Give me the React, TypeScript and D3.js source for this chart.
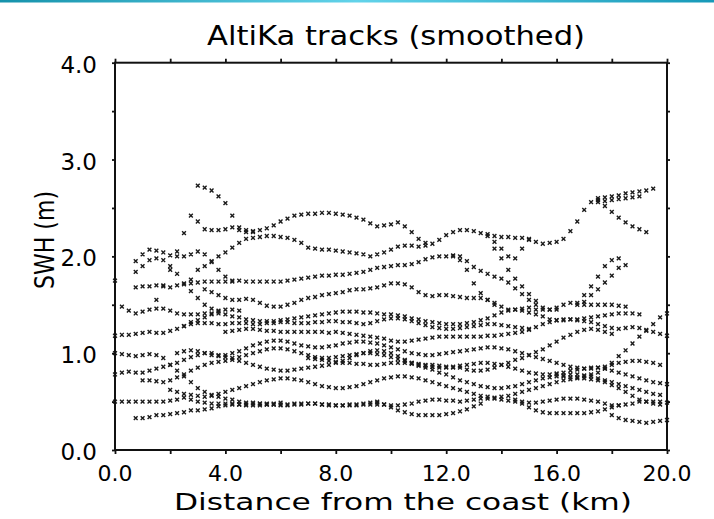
import React, { useEffect, useRef } from "react";
import * as d3 from "d3";

// SWH values along each track, one value every STEP_KM starting at the track's first distance
const STEP_KM = 0.25;

const xMinorTicks = [0, 2, 4, 6, 8, 10, 12, 14, 16, 18, 20];
const xLabelTicks = [0, 4, 8, 12, 16, 20];
const yMinorTicks = [0, 0.5, 1, 1.5, 2, 2.5, 3, 3.5, 4];
const yLabelTicks = [0, 1, 2, 3, 4];

const track01 = [2.73,2.71,2.68,2.62,2.55,2.42,2.30,2.27,2.26,2.27,2.29,2.32,2.36,2.39,2.42,2.43,2.44,2.44,2.45,2.45,2.44,2.43,2.42,2.40,2.38,2.34,2.31,2.32,2.33,2.35,2.31,2.25,2.18,2.14,2.13,2.17,2.22,2.25,2.27,2.27,2.26,2.24,2.23,2.21,2.20,2.20,2.19,2.19,2.17,2.15,2.13,2.14,2.15,2.18,2.26,2.36,2.48,2.56,2.60,2.61,2.62,2.63,2.65,2.66,2.67,2.68,2.70];
const track02 = [2.58,2.52,2.46,2.40,2.35,2.31,2.28,2.25];
const track03 = [2.56,2.57,2.58,2.59,2.60,2.61,2.62];
const track04 = [1.55,1.70,1.86,2.05,2.24,2.42,2.36,2.28,2.27,2.27,2.28,2.30,2.27,2.25,2.25];
const track05 = [1.76,1.86,1.90,1.94,2.00,2.04,2.09,2.14,2.18,2.19,2.20,2.21,2.21,2.20,2.19,2.17,2.14,2.09,2.08,2.07,2.07,2.06,2.05,2.04,2.03,2.02,2.00,2.02,2.04,2.07,2.10,2.11,2.11,2.10,2.11];
const track06 = [1.95,2.02,2.07,2.06,2.04,2.01,2.00,2.00,2.02,2.05,2.02,1.95,1.86,1.79,1.75];
const track07 = [1.84,1.90,1.96,1.98,1.96,1.90,1.82,1.72,1.64,1.57,1.50,1.46,1.44];
const track08 = [1.68,1.69,1.69,1.70,1.69,1.68,1.70,1.71,1.72,1.73,1.74,1.74,1.74,1.74,1.74,1.75,1.74,1.74,1.74,1.74,1.74,1.74,1.75,1.76,1.77,1.78,1.79,1.80,1.80,1.81,1.81,1.82,1.83,1.84,1.86,1.88,1.89,1.90,1.91,1.91,1.92,1.94,1.97,1.99,2.00,2.00,2.01,2.00,1.95,1.89,1.85,1.82,1.79,1.77,1.73,1.67,1.61,1.55,1.50,1.47,1.45,1.45];
const track09 = [2.00,1.96,1.86,1.72,1.62,1.55,1.50];
const track10 = [2.21,2.15,2.08,2.00,1.98,2.08,2.18];
const track11 = [2.08,1.98,1.86,1.77,1.69,1.61,1.54];
const track12 = [1.50,1.60,1.69,1.79,1.90,1.96,1.98];
const track13 = [1.53,1.60,1.66,1.73,1.80,1.88,1.91];
const track14 = [1.66,1.63,1.60,1.57,1.55,1.55,1.56,1.55,1.52,1.49,1.48,1.48,1.50,1.52,1.55,1.57,1.58,1.60,1.61,1.62,1.63,1.65,1.66,1.66,1.67,1.68,1.70,1.72,1.72,1.71,1.68,1.63,1.60,1.59,1.60,1.60,1.59,1.58,1.57,1.57,1.57,1.55,1.52,1.48,1.45,1.45,1.46,1.47,1.45,1.45,1.45,1.47,1.50,1.52,1.52,1.50,1.50,1.50,1.50,1.50,1.49,1.48];
const track15 = [1.48,1.44,1.41,1.43,1.45,1.46,1.46,1.44,1.41,1.40,1.40,1.40,1.41,1.41,1.41,1.40,1.38,1.37,1.35,1.34,1.33,1.33,1.33,1.34,1.35,1.36,1.37,1.38,1.39,1.40,1.41,1.42,1.43,1.43,1.43,1.42,1.42,1.41,1.40,1.40,1.39,1.38,1.36,1.35,1.33,1.32,1.31,1.30,1.30,1.30,1.31,1.32,1.34,1.36,1.39,1.42,1.44,1.45,1.44,1.42,1.40,1.38,1.35,1.34,1.34,1.35,1.35,1.36,1.37,1.38,1.39,1.40,1.41,1.41,1.41,1.40];
const track16 = [1.28,1.30,1.31,1.31,1.31,1.30,1.30,1.31,1.31,1.31,1.30,1.30,1.31,1.31,1.32,1.32,1.31,1.31,1.31,1.32,1.32,1.33,1.33,1.32,1.32,1.31,1.30,1.31,1.33,1.35,1.36,1.36,1.35,1.33,1.31,1.29,1.27,1.26,1.25,1.25,1.26,1.27,1.28,1.29,1.30,1.30,1.29,1.28,1.27,1.26,1.25];
const track17 = [1.18,1.19,1.19,1.20,1.21,1.22,1.21,1.21,1.23,1.25,1.28,1.32,1.34,1.37,1.40,1.43,1.45,1.45,1.44];
const track18 = [1.22,1.23,1.24,1.25,1.25,1.24,1.23,1.23,1.22,1.22,1.22,1.22,1.22,1.22,1.22,1.21,1.22,1.21,1.20,1.19,1.18,1.17,1.16,1.15,1.13,1.12,1.12,1.13,1.14,1.15,1.16,1.17,1.17,1.17,1.17,1.17,1.17,1.17,1.18,1.18,1.19,1.20,1.21,1.22,1.24,1.27,1.30,1.32,1.34,1.35,1.35,1.34,1.33,1.32,1.30,1.28,1.26,1.25,1.26,1.27,1.26,1.24,1.22,1.20,1.18];
const track19 = [0.85,0.83,0.82,0.82,0.83,0.85,0.88,0.90,0.93,0.95,0.98,1.01,1.04,1.08,1.12,1.16,1.19,1.22,1.24,1.25,1.24,1.22,1.20];
const track20 = [0.78,0.76,0.75,0.75,0.76,0.78,0.80,0.84,0.90,0.97,1.03,1.10,1.17,1.23,1.30,1.37,1.41];
const track21 = [1.00,0.99,0.98,0.97,0.98,0.99,0.98,0.95,0.88,0.82,0.76,0.70,0.64,0.60,0.57,0.55,0.53,0.52,0.50,0.49,0.49,0.48,0.48,0.48,0.49];
const track22 = [0.78,0.80,0.81,0.80,0.80,0.82,0.84,0.86,0.88,0.90,0.93,0.96,0.98,1.00,1.00,0.98,0.96,0.95,0.96,0.98,1.00,1.02,1.04,1.05,1.05,1.04,1.02,1.00,0.98,0.96,0.95,0.95,0.96,0.97,0.98,0.99,1.00,1.00,0.99,0.98,0.96,0.94,0.92,0.90,0.88,0.87,0.86,0.85,0.85,0.86,0.87,0.88,0.89,0.90,0.90,0.89,0.88,0.86,0.84,0.82,0.80,0.79,0.78,0.78,0.79,0.80,0.82,0.83,0.84,0.85,0.85,0.84,0.82,0.80,0.78,0.76,0.74,0.72,0.70,0.69,0.68];
const track23 = [0.50,0.50,0.50,0.50,0.50,0.50,0.50,0.50,0.51,0.52,0.54,0.52,0.50,0.49,0.48,0.48,0.48,0.48,0.47,0.47,0.48,0.48,0.47,0.47,0.47,0.47,0.48,0.48,0.48,0.48,0.47,0.47,0.46,0.46,0.46,0.46,0.47,0.47,0.47,0.47,0.46,0.46,0.47,0.48,0.50,0.51,0.52,0.52,0.51,0.51,0.50,0.51,0.52,0.53,0.53,0.53,0.52,0.51,0.50,0.50,0.49,0.49,0.50,0.51,0.52,0.53,0.53,0.53,0.52,0.51,0.50,0.48,0.46,0.46,0.47,0.48,0.50,0.50,0.50,0.50,0.49];
const track25 = [0.52,0.48,0.44,0.41,0.39,0.38,0.38,0.38,0.38,0.38,0.38,0.39,0.40,0.42,0.44,0.46];
const track26 = [0.36,0.33,0.31,0.30,0.29,0.28,0.29,0.30,0.31];
const track27 = [0.50,0.47,0.44,0.41,0.39,0.37,0.36,0.36,0.36,0.36,0.37,0.38,0.40,0.42,0.45,0.48];
const track28 = [0.33,0.33,0.34,0.36,0.36,0.37,0.38,0.39,0.41,0.41,0.42,0.43,0.45,0.46,0.47,0.47,0.46,0.46,0.46,0.47,0.47,0.46,0.46,0.47,0.47,0.48,0.48,0.47,0.46,0.46,0.46,0.47,0.47,0.48,0.49,0.49];
const track29 = [0.72,0.72,0.71,0.70,0.72,0.75,0.78,0.82,0.85,0.88,0.90,0.91,0.92,0.93,0.92,0.90,0.88,0.86,0.84,0.83,0.82,0.82,0.83,0.84,0.85,0.86,0.87,0.88,0.90,0.92,0.95,0.98,1.00,1.02,1.03,1.02,1.00,0.97,0.93,0.90,0.87,0.85,0.83,0.80,0.78,0.75,0.72,0.70,0.68,0.66,0.65,0.64,0.64,0.65,0.66,0.68,0.70,0.72,0.74,0.75,0.76,0.77,0.78,0.78,0.77,0.76,0.74,0.72,0.70,0.68,0.66,0.64,0.62,0.60,0.58,0.57];
const track30 = [0.62,0.60,0.58,0.57,0.56,0.55,0.56,0.58,0.60,0.62,0.64,0.66,0.68,0.70,0.72,0.73,0.74,0.74,0.73,0.72,0.70,0.68,0.66,0.65,0.64,0.64,0.65,0.66,0.68,0.70,0.72,0.74,0.75,0.76,0.76,0.75,0.74,0.72,0.70,0.68,0.66,0.64,0.62,0.60,0.58,0.56,0.55,0.54,0.55,0.56,0.58,0.60,0.62,0.64,0.66,0.68,0.70,0.72,0.73,0.74,0.74,0.73,0.72,0.70,0.67,0.64,0.60,0.56,0.52,0.50,0.48,0.47];
const track31 = [1.00,1.02,1.03,1.02,1.00,0.98,0.97,0.98,1.00,1.02,1.05,1.08,1.10,1.12,1.13,1.13,1.12,1.10,1.08,1.07,1.06,1.06,1.07,1.08,1.10,1.11,1.12,1.12,1.11,1.10,1.08,1.06,1.04,1.02,1.00,0.99,0.98,0.98,0.99,1.00,1.01,1.02,1.03,1.04,1.05,1.06,1.06,1.05,1.04,1.02,1.00,0.98,0.96,0.94,0.92,0.90,0.88,0.86,0.85,0.84,0.84,0.85,0.86,0.88,0.90,0.91,0.92,0.92,0.91,0.90,0.88];
const track32 = [0.95,0.94,0.93,0.92,0.91,0.90,0.90,0.89,0.89,0.88,0.88,0.89,0.90,0.90,0.90,0.89,0.89,0.88,0.88,0.87,0.86,0.85];
const track33 = [1.75];

// [first distance (km), values]
const tracks: [number, number[]][] = [
  [3.0, track01], [17.5, track02], [17.5, track03], [1.5, track04], [2.75, track05],
  [0.75, track06], [0.75, track07], [0.75, track08], [12.25, track09], [13.5, track10],
  [13.75, track11], [16.75, track12], [17.0, track13], [3.25, track14], [0.25, track15],
  [2.5, track16], [0.0, track17], [4.0, track18], [12.5, track19], [16.0, track20],
  [0.0, track21], [0.0, track22], [0.0, track23], [14.5, track25], [18.0, track26],
  [9.5, track27], [0.75, track28], [1.0, track29], [2.0, track30], [2.25, track31],
  [7.0, track32], [0.0, track33],
];

const W = 714;
const H = 519;
const left = 115;
const right = 667;
const top = 62.7;
const bottom = 450;
const font = "'DejaVu Sans', sans-serif";

const x = d3.scaleLinear().domain([0, 20]).range([left, right]);
const y = d3.scaleLinear().domain([0, 4]).range([bottom, top]);

const markerPath = "M-1.9,-1.9L1.9,1.9M-1.9,1.9L1.9,-1.9";

export default function App() {
  const axesRef = useRef<SVGGElement>(null);

  useEffect(() => {
    const g = d3.select(axesRef.current);
    g.selectAll("*").remove();
    const noLabel = () => "";
    const style = (sel: any) => {
      sel.select(".domain").remove();
      sel.selectAll("line").attr("stroke", "#111").attr("stroke-width", 1.8);
    };
    g.append("g").attr("transform", `translate(0,${bottom})`)
      .call(d3.axisBottom(x).tickValues(xMinorTicks).tickSize(4).tickFormat(noLabel)).call(style);
    g.append("g").attr("transform", `translate(0,${top})`)
      .call(d3.axisTop(x).tickValues(xMinorTicks).tickSize(4).tickFormat(noLabel)).call(style);
    g.append("g").attr("transform", `translate(${left},0)`)
      .call(d3.axisLeft(y).tickValues(yMinorTicks).tickSize(3).tickFormat(noLabel)).call(style);
    g.append("g").attr("transform", `translate(${right},0)`)
      .call(d3.axisRight(y).tickValues(yMinorTicks).tickSize(3).tickFormat(noLabel)).call(style);
  }, []);

  const points = tracks.flatMap(([start, vals], ti) =>
    vals
      .map((v, i) => ({ d: start + i * STEP_KM, v, key: `${ti}-${i}` }))
      .filter((p) => p.d <= 20.001)
  );

  return (
    <svg width={W} height={H} style={{ position: "absolute", left: 0, top: 0, background: "#fff" }}>
      <defs>
        <linearGradient id="band" x1="0" x2="1" y1="0" y2="0">
          <stop offset="0" stopColor="#1592ab" />
          <stop offset="0.5" stopColor="#62d3ea" />
          <stop offset="1" stopColor="#1699b8" />
        </linearGradient>
      </defs>
      <rect x={0} y={0} width={W} height={H} fill="#fff" />
      <rect x={0} y={0} width={W} height={2.5} fill="url(#band)" />

      <text x={396} y={45} fontFamily={font} fontSize={26} textAnchor="middle"
        textLength={378} lengthAdjust="spacingAndGlyphs">AltiKa tracks (smoothed)</text>

      <g>
        {points.map((p) => (
          <path key={p.key} d={markerPath} transform={`translate(${x(p.d)},${y(p.v)})`}
            stroke="#1a1a1a" strokeWidth={1.4} fill="none" />
        ))}
      </g>

      <g ref={axesRef} />
      <rect x={left} y={top} width={right - left} height={bottom - top}
        fill="none" stroke="#111" strokeWidth={2} />

      {yLabelTicks.map((t) => (
        <text key={`yl${t}`} x={97} y={y(t) + 2} fontFamily={font} fontSize={23}
          textAnchor="end" dominantBaseline="central">{t.toFixed(1)}</text>
      ))}
      {xLabelTicks.map((t) => (
        <text key={`xl${t}`} x={x(t)} y={481} fontFamily={font} fontSize={22}
          textAnchor="middle">{t.toFixed(1)}</text>
      ))}

      <text x={403} y={510} fontFamily={font} fontSize={23} textAnchor="middle"
        textLength={458} lengthAdjust="spacingAndGlyphs">Distance from the coast (km)</text>
      <text transform={`translate(54,240) rotate(-90)`} fontFamily={font} fontSize={26}
        textAnchor="middle" textLength={98} lengthAdjust="spacingAndGlyphs">SWH (m)</text>
    </svg>
  );
}
